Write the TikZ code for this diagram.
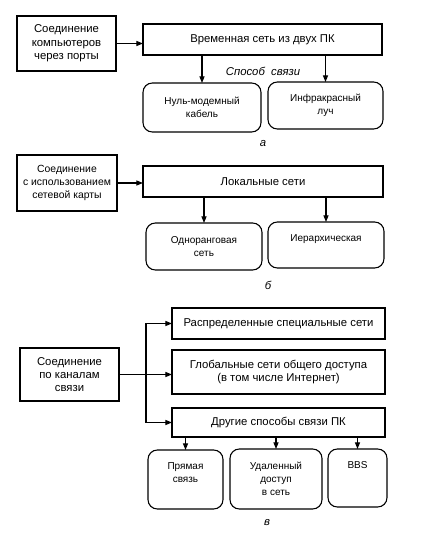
\documentclass[tikz,border=0pt]{standalone}
\usepackage{fontspec}
\setmainfont{Liberation Sans}
\usetikzlibrary{arrows.meta}
\begin{document}
\begin{tikzpicture}[x=0.75pt,y=-0.75pt,
  line width=0.8pt,
  bx/.style={draw, rectangle, inner sep=0pt, outer sep=0pt, align=center, font=\fontsize{8.5}{10}\selectfont},
  rbx/.style={draw, rectangle, rounded corners=7pt, inner sep=0pt, outer sep=0pt, align=center, font=\fontsize{7.5}{9.8}\selectfont},
  arr/.style={-{Triangle[length=5pt,width=3.8pt]}},
  capt/.style={font=\itshape\fontsize{8.5}{10}\selectfont, inner sep=0pt}]
\useasboundingbox (0,0) rectangle (425,534);
% panel a
\node[bx, minimum width=74.25pt, minimum height=41.25pt] (L1) at (66.5,43.5) {Соединение\\компьютеров\\через порты};
\node[bx, minimum width=179.25pt, minimum height=23.25pt] (M1) at (262.5,39.5) {Временная сеть из двух ПК};
\node[rbx, minimum width=88.5pt, minimum height=36.75pt] (R1a) at (202,107.5) {Нуль-модемный\\кабель};
\node[rbx, minimum width=86.25pt, minimum height=35.25pt] (R1b) at (325.5,105.5) {Инфракрасный\\луч};
\node[capt] (sp) at (263,71) {Способ\ \ связи};
\node[capt] (ca) at (263,144) {а};
\draw[arr] (L1.east) -- (L1.east -| M1.west);
\draw[arr] (M1.south -| R1a.north) -- (R1a.north);
\draw[arr] (M1.south -| R1b.north) -- (R1b.north);
% panel b
\node[bx, minimum width=75pt, minimum height=42pt, font=\fontsize{7.8}{9.8}\selectfont] (L2) at (67,183) {Соединение\\с использованием\\сетевой карты};
\node[bx, minimum width=180pt, minimum height=23.25pt] (M2) at (263,181.5) {Локальные сети};
\node[rbx, minimum width=87pt, minimum height=35.25pt] (R2a) at (204,246.5) {Одноранговая\\сеть};
\node[rbx, minimum width=87pt, minimum height=34.5pt] (R2b) at (326,245) {Иерархическая\\\mbox{}};
\node[capt] (cb) at (268,285) {б};
\draw[arr] (L2.east) -- (L2.east -| M2.west);
\draw[arr] (M2.south -| R2a.north) -- (R2a.north);
\draw[arr] (M2.south -| R2b.north) -- (R2b.north);
% panel c
\node[bx, minimum width=159.75pt, minimum height=23.25pt] (T1) at (278.5,323.5) {Распределенные специальные сети};
\node[bx, minimum width=159.75pt, minimum height=33pt] (T2) at (278.5,372) {Глобальные сети общего доступа\\(в том числе Интернет)};
\node[bx, minimum width=159.75pt, minimum height=21.75pt] (T3) at (278.5,422.5) {Другие способы связи ПК};
\node[bx, minimum width=74.25pt, minimum height=39.75pt] (L3) at (69.5,374.5) {Соединение\\по каналам\\связи};
\node[rbx, minimum width=56.25pt, minimum height=44.25pt] (R3a) at (185.5,479.5) {Прямая\\связь\\\mbox{}};
\node[rbx, minimum width=69pt, minimum height=45pt] (R3b) at (276,479) {Удаленный\\доступ\\в сеть};
\node[rbx, minimum width=44.25pt, minimum height=43.5pt] (R3c) at (357.5,478) {BBS\\\mbox{}\\\mbox{}};
\node[capt] (cc) at (267,523) {в};
\coordinate (br) at (146,374.5);
\draw (L3.east) -- (br);
\draw[arr] (br) -- (br -| T2.west);
\draw[arr] (br) |- (T1.west);
\draw[arr] (br) |- (T3.west);
\draw[arr] (T3.south -| R3a.north) -- (R3a.north);
\draw[arr] (T3.south -| R3b.north) -- (R3b.north);
\draw[arr] (T3.south -| R3c.north) -- (R3c.north);
\end{tikzpicture}
\end{document}
